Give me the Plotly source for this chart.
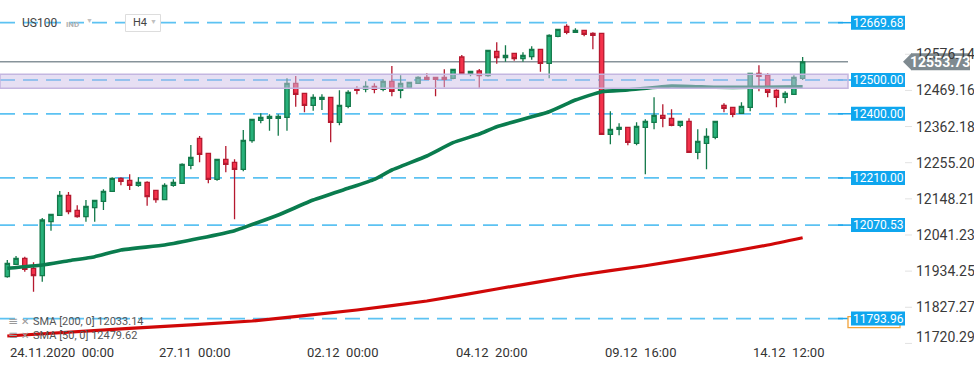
import plotly.graph_objects as go

# ---------------- data ----------------
bar_idx = list(range(92))

opens = [11917.8, 11954.5, 11972.2, 11942.6, 11920.7, 12080.6, 12099.5, 12158.7, 12114.3, 12095.4,
         12122.0, 12141.0, 12170.6, 12209.0, 12203.1, 12188.3, 12197.2, 12173.5, 12145.7, 12188.3,
         12194.2, 12247.5, 12327.4, 12283.0, 12206.1, 12265.3, 12256.4, 12235.7, 12320.3, 12380.7,
         12386.6, 12386.6, 12389.6, 12490.2, 12460.6, 12425.1, 12442.9, 12448.8, 12374.8, 12422.2,
         12473.4, 12473.4, 12481.4, 12472.5, 12496.2, 12469.5, 12478.4, 12490.2, 12508.0, 12508.0,
         12508.0, 12505.0, 12568.1, 12519.8, 12526.6, 12512.7, 12585.0, 12566.0, 12579.0, 12563.0,
         12569.0, 12590.9, 12549.4, 12629.4, 12659.0, 12641.2, 12647.1, 12638.2, 12638.2, 12339.3,
         12354.1, 12360.0, 12312.6, 12360.0, 12374.8, 12395.5, 12386.6, 12365.9, 12377.8, 12286.0,
         12312.6, 12330.4, 12425.1, 12419.2, 12401.4, 12419.2, 12519.8, 12513.9, 12469.5, 12448.8,
         12457.7, 12505.0]

highs = [11967.2, 11979.0, 11977.0, 11960.4, 12091.5, 12102.5, 12171.4, 12168.5, 12129.1, 12144.8,
         12143.9, 12176.5, 12212.0, 12212.0, 12220.9, 12212.0, 12200.2, 12173.5, 12194.2, 12206.1,
         12253.4, 12307.6, 12334.2, 12283.0, 12265.3, 12304.6, 12265.3, 12352.0, 12383.7, 12401.4,
         12398.5, 12398.5, 12505.0, 12511.8, 12460.6, 12457.7, 12457.7, 12448.8, 12469.5, 12469.5,
         12481.4, 12496.2, 12490.2, 12502.1, 12541.4, 12513.9, 12493.2, 12511.0, 12519.8, 12508.0,
         12531.7, 12531.7, 12574.0, 12525.8, 12532.6, 12587.9, 12611.6, 12602.7, 12579.0, 12582.0,
         12599.8, 12590.9, 12635.3, 12650.1, 12664.9, 12653.0, 12647.1, 12641.2, 12638.2, 12407.4,
         12371.8, 12360.0, 12374.8, 12383.7, 12448.8, 12428.1, 12413.3, 12377.8, 12386.6, 12354.1,
         12357.0, 12377.8, 12431.0, 12419.2, 12434.0, 12519.8, 12543.5, 12519.8, 12472.5, 12466.6,
         12513.9, 12568.1]

lows = [11914.8, 11954.5, 11932.6, 11873.4, 11903.0, 12053.9, 12099.5, 12102.5, 12092.4, 12080.6,
        12080.6, 12115.2, 12170.6, 12188.3, 12174.4, 12184.2, 12127.9, 12136.8, 12145.7, 12184.2,
        12194.2, 12235.7, 12256.4, 12194.2, 12201.9, 12226.8, 12087.7, 12229.8, 12314.4, 12371.8,
        12349.9, 12335.1, 12349.9, 12421.0, 12404.4, 12409.1, 12411.2, 12315.6, 12365.9, 12416.2,
        12457.7, 12463.6, 12460.6, 12466.6, 12451.8, 12445.8, 12478.4, 12490.2, 12502.1, 12451.8,
        12478.4, 12502.1, 12514.8, 12511.0, 12477.2, 12509.8, 12548.2, 12554.2, 12557.1, 12554.2,
        12560.1, 12524.6, 12505.0, 12626.4, 12635.3, 12641.2, 12629.4, 12590.9, 12339.3, 12309.7,
        12336.3, 12306.7, 12306.7, 12220.9, 12354.1, 12360.0, 12363.0, 12360.0, 12286.0, 12265.3,
        12235.7, 12324.5, 12404.4, 12389.6, 12401.4, 12407.4, 12466.6, 12448.8, 12419.2, 12431.0,
        12457.7, 12500.0]

closes = [11957.4, 11972.2, 11939.7, 11920.7, 12085.6, 12102.5, 12158.7, 12110.2, 12095.4, 12126.2,
          12143.9, 12170.6, 12209.0, 12200.2, 12188.3, 12197.2, 12154.6, 12145.7, 12188.3, 12197.2,
          12250.5, 12271.2, 12280.1, 12206.1, 12265.3, 12250.5, 12235.7, 12321.5, 12383.7, 12389.6,
          12392.6, 12392.6, 12490.2, 12457.7, 12425.1, 12448.8, 12448.8, 12374.8, 12425.1, 12463.6,
          12469.5, 12481.4, 12472.5, 12496.2, 12466.6, 12490.2, 12493.2, 12508.0, 12502.1, 12502.1,
          12502.1, 12531.7, 12519.8, 12525.8, 12512.7, 12587.9, 12566.0, 12573.1, 12563.0, 12573.1,
          12590.9, 12549.4, 12632.3, 12650.1, 12641.2, 12647.1, 12635.3, 12632.3, 12339.3, 12354.1,
          12360.0, 12315.6, 12363.0, 12377.8, 12395.5, 12386.6, 12365.9, 12377.8, 12286.0, 12318.6,
          12333.4, 12377.8, 12416.2, 12398.5, 12422.2, 12519.8, 12511.0, 12463.6, 12448.8, 12460.6,
          12508.0, 12553.73]

sma50_idx = [0, 4, 7, 10, 13, 18, 22, 26, 31, 35, 39, 42, 44, 48, 51, 54, 56, 62, 65, 68, 71, 76, 81, 85, 91]
sma50_val = [11942.6, 11952.4, 11965.1, 11977.0, 11996.8, 12011.6, 12031.4, 12054.0, 12100.4, 12144.8,
             12179.4, 12206.0, 12233.6, 12275.0, 12314.4, 12340.0, 12361.8, 12406.2, 12440.8, 12465.4,
             12470.4, 12482.2, 12478.4, 12478.4, 12479.62]

sma200_idx = [0, 14, 28, 40, 48, 56, 65, 73, 81, 87, 91]
sma200_val = [11742.2, 11765.0, 11786.6, 11819.2, 11845.8, 11881.4, 11920.7, 11950.3, 11984.0, 12011.6, 12033.14]

level_values = [12669.68, 12500.00, 12400.00, 12210.00, 12070.53, 11793.96]
level_labels = ["12669.68", "12500.00", "12400.00", "12210.00", "12070.53", "11793.96"]

zone_low, zone_high = 12475.4, 12516.9
last_price = 12553.73
last_price_label = "12553.73"

y_tick_values = [12576.14, 12469.16, 12362.18, 12255.20, 12148.21, 12041.23, 11934.25, 11827.27, 11720.29]
y_tick_labels = ["12576.14", "12469.16", "12362.18", "12255.20", "12148.21", "12041.23", "11934.25", "11827.27", "11720.29"]

x_tick_idx = [0, 17, 34, 51, 68, 85]
x_tick_labels = ["24.11.2020  00:00", "27.11  00:00", "02.12  00:00", "04.12  20:00", "09.12  16:00", "14.12  12:00"]

symbol = "US100"
symbol_type = "IND"
timeframe = "H4"
legend_lines = ["SMA [200, 0] 12033.14", "SMA [50, 0] 12479.62"]

# ---------------- geometry ----------------
W, H = 974, 368
PL, PR, PT, PB = 0, 126, 0, 23
PW = W - PL - PR
PH = H - PT - PB
Y_RANGE = [11715.6, 12736.8]
X_RANGE = [-0.835, 96.19]
PX_PER_PT = PH / (Y_RANGE[1] - Y_RANGE[0])


def xp(px):
    return (px - PL) / PW


def yp(py):
    return 1 - (py - PT) / PH


def dy(px):  # pixels -> price units
    return px / PX_PER_PT


FONT = "Roboto, 'Open Sans', sans-serif"

fig = go.Figure()

fig.add_trace(go.Candlestick(
    x=bar_idx, open=opens, high=highs, low=lows, close=closes,
    increasing=dict(line=dict(color="#13794a", width=1.3), fillcolor="#27b17a"),
    decreasing=dict(line=dict(color="#b5192f", width=1.3), fillcolor="#f4324b"),
    whiskerwidth=0, showlegend=False, hoverinfo="skip"))

fig.add_trace(go.Scatter(
    x=sma200_idx, y=sma200_val, mode="lines",
    line=dict(color="#d00808", width=3.2, shape="spline", smoothing=0.4),
    showlegend=False, hoverinfo="skip"))

fig.add_trace(go.Scatter(
    x=sma50_idx, y=sma50_val, mode="lines",
    line=dict(color="#0a7c4e", width=3.6, shape="spline", smoothing=0.4),
    showlegend=False, hoverinfo="skip"))

shapes = []
annotations = []

# level lines (dashed)
for v in level_values:
    shapes.append(dict(type="line", xref="paper", yref="y", x0=0, x1=1, y0=v, y1=v,
                       line=dict(color="#5cc2f2", width=1.8, dash="15px,8px"), layer="below"))
    shapes.append(dict(type="line", xref="paper", yref="y", x0=xp(838), x1=xp(851), y0=v, y1=v,
                       line=dict(color="#1aa6ec", width=1.5), layer="above"))

# last price line
shapes.append(dict(type="line", xref="paper", yref="y", x0=0, x1=1, y0=last_price, y1=last_price,
                   line=dict(color="#87939a", width=1.5), layer="below"))

# resistance/support zone (drawn above the candles, translucent)
shapes.append(dict(type="rect", xref="paper", yref="y", x0=0, x1=1, y0=zone_low, y1=zone_high,
                   fillcolor="rgba(205,192,232,0.5)", line=dict(color="#c4b6e0", width=1.5),
                   layer="above"))

# small orange marker peeking from behind the lowest level label
shapes.append(dict(type="rect", xref="paper", yref="y", x0=xp(848), x1=xp(900),
                   y0=level_values[-1] - dy(9), y1=level_values[-1] + dy(2),
                   fillcolor="white", line=dict(color="#f2a33a", width=1.3), layer="above"))

# level label boxes
for v, t in zip(level_values, level_labels):
    shapes.append(dict(type="rect", xref="paper", yref="y", x0=xp(851), x1=xp(905),
                       y0=v - dy(7), y1=v + dy(7), fillcolor="#0fa6ee", line=dict(width=0),
                       layer="above"))
    annotations.append(dict(xref="paper", yref="y", x=xp(878), y=v, text=t, showarrow=False,
                            xanchor="center", yanchor="middle",
                            font=dict(family=FONT, size=12, color="white")))

# right axis tick labels and tick marks
for i, (v, t) in enumerate(zip(y_tick_values, y_tick_labels)):
    shift = 6 if i == len(y_tick_values) - 1 else 0
    annotations.append(dict(xref="paper", yref="y", x=xp(914), y=v, yshift=shift, text=t,
                            showarrow=False, xanchor="left", yanchor="middle",
                            font=dict(family=FONT, size=14, color="#3a3a3a")))
    shapes.append(dict(type="line", xref="paper", yref="y", x0=xp(905), x1=xp(912),
                       y0=v, y1=v, line=dict(color="#e2e2e2", width=1), layer="above"))

# last price tag with arrow
shapes.append(dict(type="rect", xref="paper", yref="y", x0=xp(911), x1=xp(970),
                   y0=last_price - dy(8.5), y1=last_price + dy(8.5),
                   fillcolor="#7f8a90", line=dict(width=0), layer="above"))
shapes.append(dict(type="path", xref="paper", yref="y",
                   path=f"M {xp(903)} {last_price} L {xp(911.5)} {last_price + dy(8.5)} "
                        f"L {xp(911.5)} {last_price - dy(8.5)} Z",
                   fillcolor="#7f8a90", line=dict(width=0), layer="above"))
annotations.append(dict(xref="paper", yref="y", x=xp(940), y=last_price, text=f"<b>{last_price_label}</b>",
                        showarrow=False, xanchor="center", yanchor="middle",
                        font=dict(family=FONT, size=14, color="white")))

# x axis labels (left aligned at their bar)
for i, t in zip(x_tick_idx, x_tick_labels):
    annotations.append(dict(xref="x", yref="paper", x=i, y=0, xshift=1, yshift=-7,
                            text=t.replace(" ", "\u00a0"), showarrow=False,
                            xanchor="left", yanchor="middle",
                            font=dict(family=FONT, size=13, color="#333333")))

# header
annotations.append(dict(xref="paper", yref="paper", x=xp(20), y=yp(23), text=symbol, showarrow=False,
                        xanchor="left", yanchor="middle",
                        font=dict(family=FONT, size=12, color="#444444")))
annotations.append(dict(xref="paper", yref="paper", x=xp(64), y=yp(24), text=f"<b>{symbol_type}</b>",
                        showarrow=False, xanchor="left", yanchor="middle",
                        font=dict(family=FONT, size=8, color="#b0b0b0")))
annotations.append(dict(xref="paper", yref="paper", x=xp(84), y=yp(21), text="▼", showarrow=False,
                        xanchor="left", yanchor="middle",
                        font=dict(family=FONT, size=7, color="#c0c0c0")))
shapes.append(dict(type="rect", xref="paper", yref="paper", x0=xp(125.5), x1=xp(160.5),
                   y0=yp(31.5), y1=yp(14.5), fillcolor="white",
                   line=dict(color="#dddddd", width=1), layer="above"))
annotations.append(dict(xref="paper", yref="paper", x=xp(131), y=yp(23), text=timeframe, showarrow=False,
                        xanchor="left", yanchor="middle",
                        font=dict(family=FONT, size=11, color="#444444")))
annotations.append(dict(xref="paper", yref="paper", x=xp(148), y=yp(22), text="▼", showarrow=False,
                        xanchor="left", yanchor="middle",
                        font=dict(family=FONT, size=7, color="#c0c0c0")))

# indicator legend
for k, t in enumerate(legend_lines):
    ypx = 321 + 14 * k
    annotations.append(dict(xref="paper", yref="paper", x=xp(6), y=yp(ypx), text="≡", showarrow=False,
                            xanchor="left", yanchor="middle",
                            font=dict(family="DejaVu Sans", size=12, color="#999999")))
    annotations.append(dict(xref="paper", yref="paper", x=xp(19), y=yp(ypx), text="✕", showarrow=False,
                            xanchor="left", yanchor="middle",
                            font=dict(family="DejaVu Sans", size=10, color="#999999")))
    annotations.append(dict(xref="paper", yref="paper", x=xp(31), y=yp(ypx), text=t, showarrow=False,
                            xanchor="left", yanchor="middle",
                            font=dict(family=FONT, size=11, color="#555555")))

fig.update_layout(
    width=W, height=H,
    margin=dict(l=PL, r=PR, t=PT, b=PB, pad=0),
    paper_bgcolor="white", plot_bgcolor="white",
    showlegend=False,
    xaxis=dict(range=X_RANGE, showgrid=False, zeroline=False, showticklabels=False,
               showline=False, ticks="", rangeslider=dict(visible=False), fixedrange=True),
    yaxis=dict(range=Y_RANGE, showgrid=False, zeroline=False, showticklabels=False,
               showline=False, ticks="", fixedrange=True),
    shapes=shapes,
    annotations=annotations,
)

fig.write_html("out.html", config={"displayModeBar": False},
               post_script="document.body.style.margin='0';document.body.style.overflow='hidden';")
